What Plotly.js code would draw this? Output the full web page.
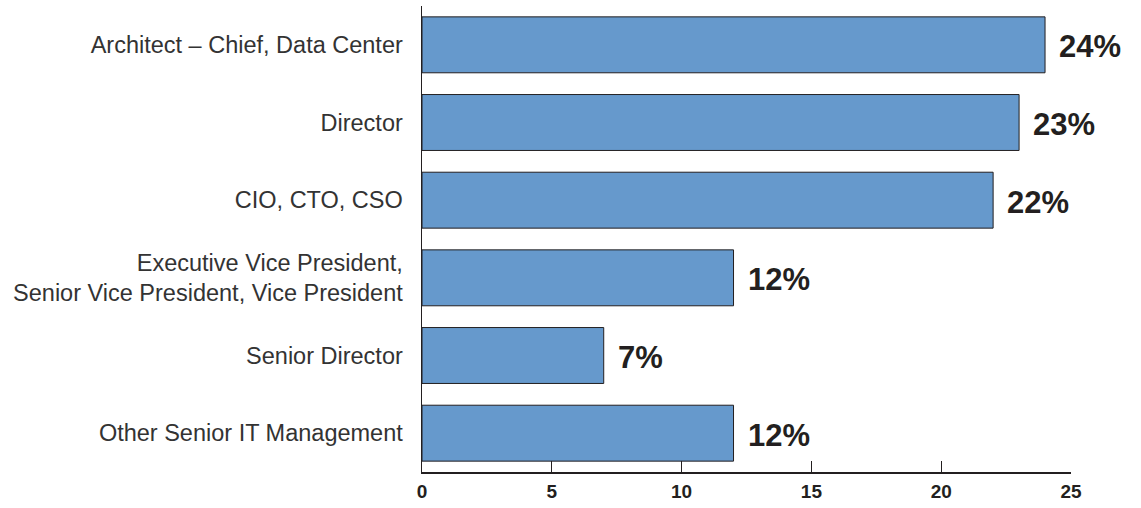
<!DOCTYPE html>
<html>
<head>
<meta charset="utf-8">
<script src="https://cdn.plot.ly/plotly-3.0.1.min.js"></script>
<style>
  html, body { margin: 0; padding: 0; background: #fff; }
  #chart { width: 1141px; height: 508px; }
</style>
</head>
<body>
<div id="chart"></div>
<script>
// job titles, top to bottom as in the picture
var titles = [
  "Architect – Chief, Data Center",
  "Director",
  "CIO, CTO, CSO",
  "Executive Vice President,<br>Senior Vice President, Vice President",
  "Senior Director",
  "Other Senior IT Management"
];
var shares = [24, 23, 22, 12, 7, 12];   // percent of respondents
var xTicks = [0, 5, 10, 15, 20, 25];

var ink = "#231f20";

var bars = {
  type: "bar",
  orientation: "h",
  x: shares,
  y: titles,
  marker: { color: "#6699cc", line: { color: ink, width: 1 } },
  hoverinfo: "skip"
};

// value labels to the right of each bar
var labels = shares.map(function (v, i) {
  return {
    x: v, y: titles[i], xref: "x", yref: "y",
    text: v + "%", showarrow: false,
    xanchor: "left", yanchor: "middle", xshift: 12, yshift: -2,
    font: { family: "Liberation Sans, Arial, sans-serif", size: 31, color: ink, weight: "bold" }
  };
});

var layout = {
  width: 1141, height: 508,
  margin: { l: 422, r: 70, t: 6, b: 36 },
  paper_bgcolor: "#fff", plot_bgcolor: "#fff",
  showlegend: false,
  bargap: 0.28,
  font: { family: "Liberation Sans, Arial, sans-serif", color: ink },
  xaxis: {
    range: [0, 25], tickvals: xTicks, showgrid: false, zeroline: false,
    showline: true, linecolor: ink, linewidth: 1.5,
    ticks: "inside", ticklen: 11, tickcolor: ink, tickwidth: 1.2,
    tickfont: { size: 19, color: ink, weight: "bold" },
    ticklabelstandoff: 2
  },
  yaxis: {
    autorange: "reversed", showgrid: false, zeroline: false,
    showline: true, linecolor: ink, linewidth: 1.5,
    ticks: "", ticklabelstandoff: 13,
    tickfont: { size: 23.5, color: "#333" }
  },
  annotations: labels
};

Plotly.newPlot("chart", [bars], layout, { staticPlot: true, displayModeBar: false });
</script>
</body>
</html>
